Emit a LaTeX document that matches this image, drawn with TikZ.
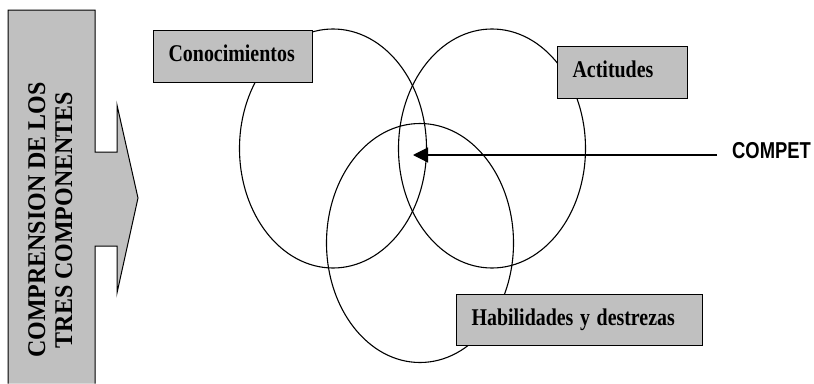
\documentclass[tikz,border=0pt]{standalone}
\usepackage{fontspec}
\setmainfont{Liberation Serif}
\newfontfamily\arialfont{Liberation Sans}
\usetikzlibrary{arrows.meta,shapes.geometric}
\definecolor{boxgray}{HTML}{C0C0C0}
\newcommand{\narrowtxt}[1]{\scalebox{0.83}[1]{#1}}
\newcommand{\vnarrow}[1]{\scalebox{0.94}[1]{#1}}
\begin{document}
\begin{tikzpicture}[x=1pt,y=-1pt,
  oval/.style={draw=black, line width=1.1pt, ellipse, inner sep=0pt,
    minimum width=187pt, minimum height=239pt},
  labelbox/.style={draw=black, fill=boxgray, line width=1.2pt, anchor=north west,
    inner xsep=15pt, inner ysep=0pt, align=left, text height=14pt, text depth=4pt,
    font=\fontsize{24}{26}\selectfont\bfseries},
  vtext/.style={rotate=90, anchor=base, inner sep=0pt,
    font=\fontsize{25.5}{28}\selectfont\bfseries},
  pointer/.style={line width=1.2pt, -{Triangle[length=15pt,width=15pt]}}]
\useasboundingbox (0,0) rectangle (814,383);
\fill[white] (0,0) rectangle (814,383);
% left block arrow
\filldraw[fill=boxgray, draw=black, line width=1pt]
  (8,383.5) -- (8,10) -- (95,10) -- (95,152) -- (117,152) -- (117,105)
  -- (138,198) -- (117,293) -- (117,246) -- (95,246) -- (95,383.5);
\node[vtext] (l1) at (45,220) {\vnarrow{COMPRENSION DE LOS}};
\node[vtext] (l2) at (72,220) {\vnarrow{TRES COMPONENTES}};
% ellipses
\node[oval] (e1) at (333,148.5) {};
\node[oval] (e2) at (492,148.5) {};
\node[oval] (e3) at (420,243) {};
% label boxes
\node[labelbox, text width=129pt, minimum height=52pt] (con) at (153,30) {\narrowtxt{Conocimientos}};
\node[labelbox, text width=100pt, minimum height=52pt] (act) at (557,46) {\narrowtxt{Actitudes}};
\node[labelbox, text width=216pt, minimum height=51pt] (hab) at (456,294) {\narrowtxt{Habilidades y destrezas}};
% pointer
\node[anchor=base west, inner sep=0pt, font=\arialfont\fontsize{23}{25}\selectfont\bfseries]
  (compet) at (732,158) {\scalebox{0.8}[1]{COMPET}};
\coordinate (astart) at (717,155);
\coordinate (atip) at (413,155);
\draw[pointer] (astart) -- (atip);
\end{tikzpicture}
\end{document}
